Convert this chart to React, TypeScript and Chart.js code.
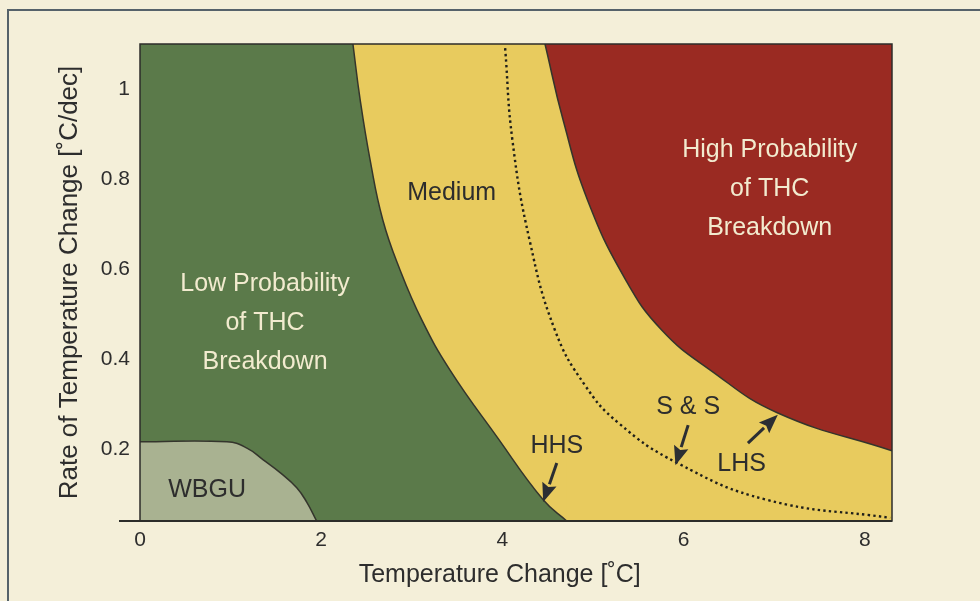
import React, { useEffect, useRef } from "react";
import { Chart, registerables } from "chart.js";

Chart.register(...registerables);

// ---- axis ticks ----
const xTicks = [0, 2, 4, 6, 8];
const yTicks = [0.2, 0.4, 0.6, 0.8, 1];

// ---- boundary curves (Temperature change °C, rate °C/dec) ----
const hhsX = [2.35, 2.43, 2.54, 2.68, 2.87, 3.11, 3.42, 3.94, 4.45, 4.71];
const hhsY = [1.1, 0.976, 0.842, 0.709, 0.598, 0.487, 0.376, 0.227, 0.087, 0.04];

const lhsX = [4.47, 4.67, 4.94, 5.36, 5.76, 6.29, 7.04, 8.3];
const lhsY = [1.1, 0.931, 0.753, 0.576, 0.464, 0.376, 0.28, 0.196];

const ssX = [4.03, 4.11, 4.3, 4.58, 4.91, 5.28, 5.93, 6.92, 8.28];
const ssY = [1.091, 0.887, 0.664, 0.464, 0.342, 0.258, 0.169, 0.087, 0.047];

const wbguX = [0, 0.96, 1.18, 1.36, 1.55, 1.73, 1.84, 1.95];
const wbguY = [0.216, 0.216, 0.202, 0.176, 0.147, 0.114, 0.082, 0.04];

// ---- text labels (data coordinates) ----
const regionLabels = [
  { text: "Low Probability", x: 1.38, y: 0.567, light: true },
  { text: "of THC", x: 1.38, y: 0.48, light: true },
  { text: "Breakdown", x: 1.38, y: 0.393, light: true },
  { text: "High Probability", x: 6.95, y: 0.864, light: true },
  { text: "of THC", x: 6.95, y: 0.778, light: true },
  { text: "Breakdown", x: 6.95, y: 0.691, light: true },
  { text: "Medium", x: 3.44, y: 0.769, light: false },
  { text: "WBGU", x: 0.74, y: 0.109, light: false },
  { text: "HHS", x: 4.6, y: 0.207, light: false },
  { text: "S & S", x: 6.05, y: 0.293, light: false },
  { text: "LHS", x: 6.64, y: 0.167, light: false },
];

const arrows = [
  { x0: 4.6, y0: 0.169, x1: 4.45, y1: 0.082 },
  { x0: 6.05, y0: 0.253, x1: 5.91, y1: 0.164 },
  { x0: 6.71, y0: 0.213, x1: 7.04, y1: 0.276 },
];

const X_MIN = 0;
const X_MAX = 8.3;
const Y_MIN = 0.04;
const Y_MAX = 1.1;
const X_TITLE_AT = 3.97;

const GREEN = "#5b7a4a";
const YELLOW = "#e8cb5e";
const RED = "#9a2a22";
const SAGE = "#a9b291";
const LINE = "#34352c";
const TEXT = "#2d2d2d";
const LIGHT = "#f2ebcf";
const PAPER = "#f4efd9";
const FONT = "'Liberation Sans', Arial, Helvetica, sans-serif";

const pts = (xs: number[], ys: number[]) => xs.map((x, i) => ({ x, y: ys[i] }));

export default function App() {
  const ref = useRef<HTMLCanvasElement | null>(null);

  useEffect(() => {
    if (!ref.current) return;

    const bgPlugin = {
      id: "plotBg",
      beforeDatasetsDraw(chart: any) {
        const { ctx, chartArea: a } = chart;
        ctx.save();
        ctx.fillStyle = GREEN;
        ctx.fillRect(a.left, a.top, a.right - a.left, a.bottom - a.top);
        ctx.restore();
      },
    };

    const overlayPlugin = {
      id: "overlay",
      afterDraw(chart: any) {
        const { ctx, chartArea: a, scales } = chart;
        const sx = scales.x;
        const sy = scales.y;
        ctx.save();
        // frame
        ctx.strokeStyle = "#2c2d2a";
        ctx.lineWidth = 1.5;
        ctx.strokeRect(a.left, a.top, a.right - a.left, a.bottom - a.top);
        ctx.lineWidth = 2;
        ctx.beginPath();
        ctx.moveTo(a.left - 21, a.bottom);
        ctx.lineTo(a.right, a.bottom);
        ctx.stroke();

        // labels
        ctx.font = `25px ${FONT}`;
        ctx.textAlign = "center";
        ctx.textBaseline = "middle";
        for (const l of regionLabels) {
          ctx.fillStyle = l.light ? LIGHT : TEXT;
          ctx.fillText(l.text, sx.getPixelForValue(l.x), sy.getPixelForValue(l.y));
        }

        // arrows
        ctx.fillStyle = "#2b2e33";
        ctx.strokeStyle = "#2b2e33";
        for (const ar of arrows) {
          const x0 = sx.getPixelForValue(ar.x0);
          const y0 = sy.getPixelForValue(ar.y0);
          const x1 = sx.getPixelForValue(ar.x1);
          const y1 = sy.getPixelForValue(ar.y1);
          const ang = Math.atan2(y1 - y0, x1 - x0);
          const hl = 19;
          const hw = 7.5;
          const bx = x1 - hl * Math.cos(ang);
          const by = y1 - hl * Math.sin(ang);
          ctx.lineWidth = 3;
          ctx.beginPath();
          ctx.moveTo(x0, y0);
          ctx.lineTo(bx, by);
          ctx.stroke();
          ctx.beginPath();
          ctx.moveTo(x1, y1);
          ctx.lineTo(bx + hw * Math.sin(ang), by - hw * Math.cos(ang));
          ctx.lineTo(bx + 3 * Math.cos(ang), by + 3 * Math.sin(ang));
          ctx.lineTo(bx - hw * Math.sin(ang), by + hw * Math.cos(ang));
          ctx.closePath();
          ctx.fill();
        }

        // x axis title
        ctx.fillStyle = TEXT;
        ctx.font = `25px ${FONT}`;
        ctx.fillText("Temperature Change [˚C]", sx.getPixelForValue(X_TITLE_AT), a.bottom + 54);
        ctx.restore();
      },
    };

    const yellowBase = [
      { x: hhsX[hhsX.length - 1] - 0.02, y: Y_MIN },
      { x: X_MAX, y: Y_MIN },
    ];

    const curve = { tension: 0.45, pointRadius: 0 };

    const chart = new Chart(ref.current, {
      type: "line",
      data: {
        datasets: [
          {
            label: "WBGU",
            data: pts(wbguX, wbguY),
            fill: "start",
            backgroundColor: SAGE,
            borderColor: LINE,
            borderWidth: 1.5,
            ...curve,
            order: 1,
          },
          {
            label: "S & S",
            data: pts(ssX, ssY),
            fill: false,
            borderColor: "#1f1f1a",
            borderWidth: 2.4,
            borderDash: [2.4, 3.2],
            ...curve,
            order: 2,
          },
          {
            label: "LHS",
            data: pts(lhsX, lhsY),
            fill: "end",
            backgroundColor: RED,
            borderColor: LINE,
            borderWidth: 1.5,
            ...curve,
            order: 3,
          },
          {
            label: "HHS",
            data: pts(hhsX, hhsY),
            fill: "end",
            backgroundColor: YELLOW,
            borderColor: LINE,
            borderWidth: 1.5,
            ...curve,
            order: 4,
          },
          {
            label: "Medium",
            data: yellowBase,
            fill: "end",
            backgroundColor: YELLOW,
            borderWidth: 0,
            borderColor: "rgba(0,0,0,0)",
            pointRadius: 0,
            order: 5,
          },
        ],
      },
      options: {
        animation: false,
        responsive: false,
        devicePixelRatio: 1,
        layout: { padding: { top: 44, right: 88, left: 0, bottom: 0 } },
        plugins: {
          legend: { display: false },
          tooltip: { enabled: false },
        },
        scales: {
          x: {
            type: "linear",
            min: X_MIN,
            max: X_MAX,
            grid: { display: false, drawTicks: false },
            border: { display: false },
            afterBuildTicks: (s: any) => {
              s.ticks = xTicks.map((v) => ({ value: v }));
            },
            afterFit: (s: any) => {
              s.height = 80;
            },
            ticks: {
              padding: 7,
              color: TEXT,
              font: { family: FONT, size: 21 },
              callback: (v: any) => String(v),
            },
          },
          y: {
            type: "linear",
            min: Y_MIN,
            max: Y_MAX,
            grid: { display: false, drawTicks: false },
            border: { display: false },
            afterBuildTicks: (s: any) => {
              s.ticks = yTicks.map((v) => ({ value: v }));
            },
            afterFit: (s: any) => {
              s.width = 140;
            },
            ticks: {
              padding: 10,
              color: TEXT,
              font: { family: FONT, size: 21 },
              callback: (v: any) => String(v),
            },
            title: {
              display: true,
              text: "Rate of Temperature Change [˚C/dec]",
              color: TEXT,
              font: { family: FONT, size: 26 },
              padding: { top: 54, bottom: 0 },
            },
          },
        },
      },
      plugins: [bgPlugin, overlayPlugin],
    } as any);

    return () => chart.destroy();
  }, []);

  return (
    <div
      style={{
        position: "fixed",
        left: 0,
        top: 0,
        width: 980,
        height: 601,
        background: PAPER,
        overflow: "hidden",
      }}
    >
      <div
        style={{
          position: "absolute",
          left: 7,
          top: 9,
          width: 1000,
          height: 700,
          borderTop: "2px solid #55626a",
          borderLeft: "2px solid #55626a",
        }}
      />
      <canvas
        ref={ref}
        width={980}
        height={601}
        style={{ position: "absolute", left: 0, top: 0, width: 980, height: 601 }}
      />
    </div>
  );
}
